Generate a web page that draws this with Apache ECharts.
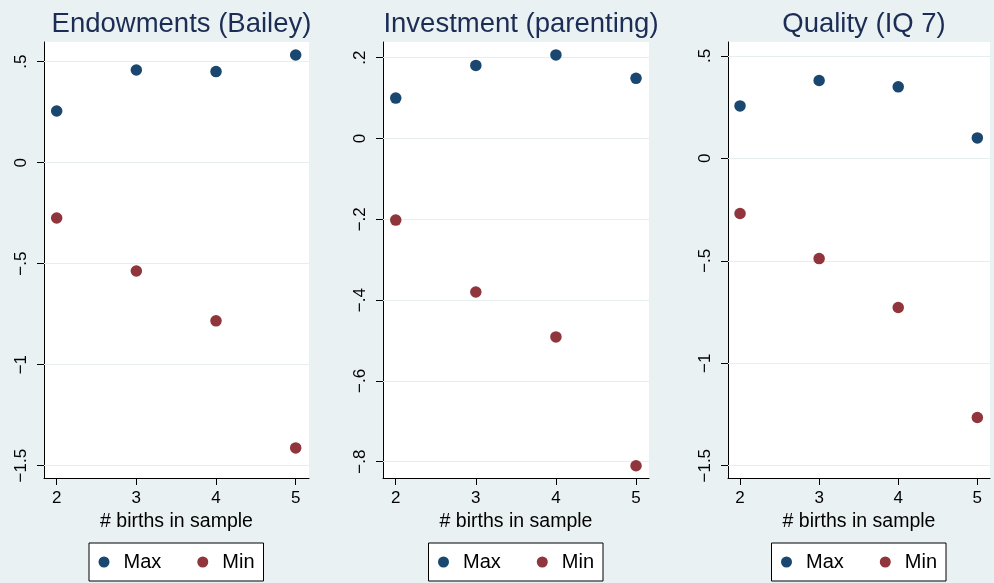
<!DOCTYPE html>
<html>
<head>
<meta charset="utf-8">
<script src="https://cdn.jsdelivr.net/npm/echarts@6/dist/echarts.min.js"></script>
<style>
  html, body { margin: 0; padding: 0; background: #eaf1f3; }
  #chart { width: 994px; height: 583px; }
</style>
</head>
<body>
<div id="chart"></div>
<script>
// Number of births observed per family (x axis)
const births = [2, 3, 4, 5];
const birthLabels = ['2', '3', '4', '5'];

const panelTitles = ['Endowments (Bailey)', 'Investment (parenting)', 'Quality (IQ 7)'];
const seriesNames = ['Max', 'Min'];

// Endowments (Bailey)
const endowMax = [0.256, 0.459, 0.451, 0.533];
const endowMin = [-0.274, -0.536, -0.783, -1.412];
const endowTicks = [0.5, 0, -0.5, -1, -1.5];
const endowTickLabels = ['.5', '0', '\u2212.5', '\u22121', '\u22121.5'];

// Investment (parenting)
const investMax = [0.100, 0.181, 0.207, 0.149];
const investMin = [-0.202, -0.380, -0.491, -0.810];
const investTicks = [0.2, 0, -0.2, -0.4, -0.6, -0.8];
const investTickLabels = ['.2', '0', '\u2212.2', '\u2212.4', '\u2212.6', '\u2212.8'];

// Quality (IQ 7)
const qualityMax = [0.256, 0.380, 0.349, 0.100];
const qualityMin = [-0.269, -0.489, -0.728, -1.265];
const qualityTicks = [0.5, 0, -0.5, -1, -1.5];
const qualityTickLabels = ['.5', '0', '\u2212.5', '\u22121', '\u22121.5'];

const panelData = [
  { max: endowMax, min: endowMin, ticks: endowTicks, labels: endowTickLabels },
  { max: investMax, min: investMin, ticks: investTicks, labels: investTickLabels },
  { max: qualityMax, min: qualityMin, ticks: qualityTicks, labels: qualityTickLabels }
];

// Plot-region geometry and axis extents for each panel
const panelLayout = [
  { left: 44,  width: 265, xMin: 1.841, xMax: 5.167, yMin: -1.561, yMax: 0.5975 },
  { left: 383, width: 266, xMin: 1.841, xMax: 5.162, yMin: -0.8403, yMax: 0.2389 },
  { left: 728, width: 262, xMin: 1.848, xMax: 5.160, yMin: -1.560, yMax: 0.568 }
];

const FONT = 'Liberation Sans, Arial, Helvetica, sans-serif';
const MAX_COLOR = '#1a476f';
const MIN_COLOR = '#90353b';
const BG = '#eaf1f3';
const GRID_TOP = 42;
const GRID_HEIGHT = 436;

function labelFor(ticks, labels) {
  return function (v) {
    const i = ticks.findIndex(t => Math.abs(t - v) < 1e-9);
    return i >= 0 ? labels[i] : '';
  };
}

const grids = [], xAxes = [], yAxes = [], series = [], titles = [], legends = [];

panelLayout.forEach((p, k) => {
  const d = panelData[k];
  const center = p.left + p.width / 2;

  grids.push({
    left: p.left, top: GRID_TOP, width: p.width, height: GRID_HEIGHT,
    show: true, backgroundColor: '#ffffff', borderWidth: 0, containLabel: false
  });

  titles.push({
    text: panelTitles[k],
    left: center, top: 5, textAlign: 'center',
    textStyle: { fontFamily: FONT, fontSize: 27.5, fontWeight: 'normal', color: '#1c2d55' }
  });

  xAxes.push({
    gridIndex: k, type: 'value', min: p.xMin, max: p.xMax,
    name: '# births in sample', nameLocation: 'middle', nameGap: 31,
    nameTextStyle: { fontFamily: FONT, fontSize: 19.5, color: '#000' },
    axisLine: { show: true, onZero: false, lineStyle: { color: '#000', width: 1 } },
    axisTick: { show: true, length: 7, customValues: births, lineStyle: { color: '#000' } },
    axisLabel: {
      show: true, margin: 12, customValues: births,
      fontFamily: FONT, fontSize: 17, color: '#000',
      formatter: labelFor(births, birthLabels)
    },
    splitLine: { show: false }
  });

  yAxes.push({
    gridIndex: k, type: 'value', min: p.yMin, max: p.yMax,
    axisLine: { show: true, onZero: false, lineStyle: { color: '#000', width: 1 } },
    axisTick: { show: true, length: 7, customValues: d.ticks, lineStyle: { color: '#000' } },
    axisLabel: {
      show: true, rotate: 90, margin: 14, customValues: d.ticks,
      fontFamily: FONT, fontSize: 17, color: '#000',
      formatter: labelFor(d.ticks, d.labels)
    },
    splitLine: { show: false }
  });

  series.push({
    name: seriesNames[0], type: 'scatter', xAxisIndex: k, yAxisIndex: k,
    symbol: 'circle', symbolSize: 11.5,
    itemStyle: { color: MAX_COLOR, opacity: 1 },
    data: births.map((b, i) => [b, d.max[i]]),
    markLine: {
      silent: true, symbol: 'none', z: 1, animation: false,
      label: { show: false },
      lineStyle: { color: '#e6eef0', width: 1.2, type: 'solid', opacity: 1 },
      emphasis: { disabled: true },
      data: d.ticks.map(t => ({ yAxis: t }))
    },
    z: 3
  });
  series.push({
    name: seriesNames[1], type: 'scatter', xAxisIndex: k, yAxisIndex: k,
    symbol: 'circle', symbolSize: 11.5,
    itemStyle: { color: MIN_COLOR, opacity: 1 },
    data: births.map((b, i) => [b, d.min[i]]),
    z: 3
  });

  legends.push({
    data: seriesNames,
    left: center - 87.5, top: 543,
    orient: 'horizontal',
    icon: 'circle', itemWidth: 11, itemHeight: 11, itemGap: 36,
    padding: [9, 9, 9, 9.5],
    backgroundColor: '#ffffff', borderColor: '#000', borderWidth: 1, borderRadius: 0,
    selectedMode: false,
    itemStyle: { opacity: 1 },
    textStyle: { fontFamily: FONT, fontSize: 20, color: '#000', padding: [0, 0, 0, 9] }
  });
});

const chart = echarts.init(document.getElementById('chart'), null, { renderer: 'canvas' });
chart.setOption({
  backgroundColor: BG,
  animation: false,
  title: titles,
  legend: legends,
  grid: grids,
  xAxis: xAxes,
  yAxis: yAxes,
  series: series
});
</script>
</body>
</html>
